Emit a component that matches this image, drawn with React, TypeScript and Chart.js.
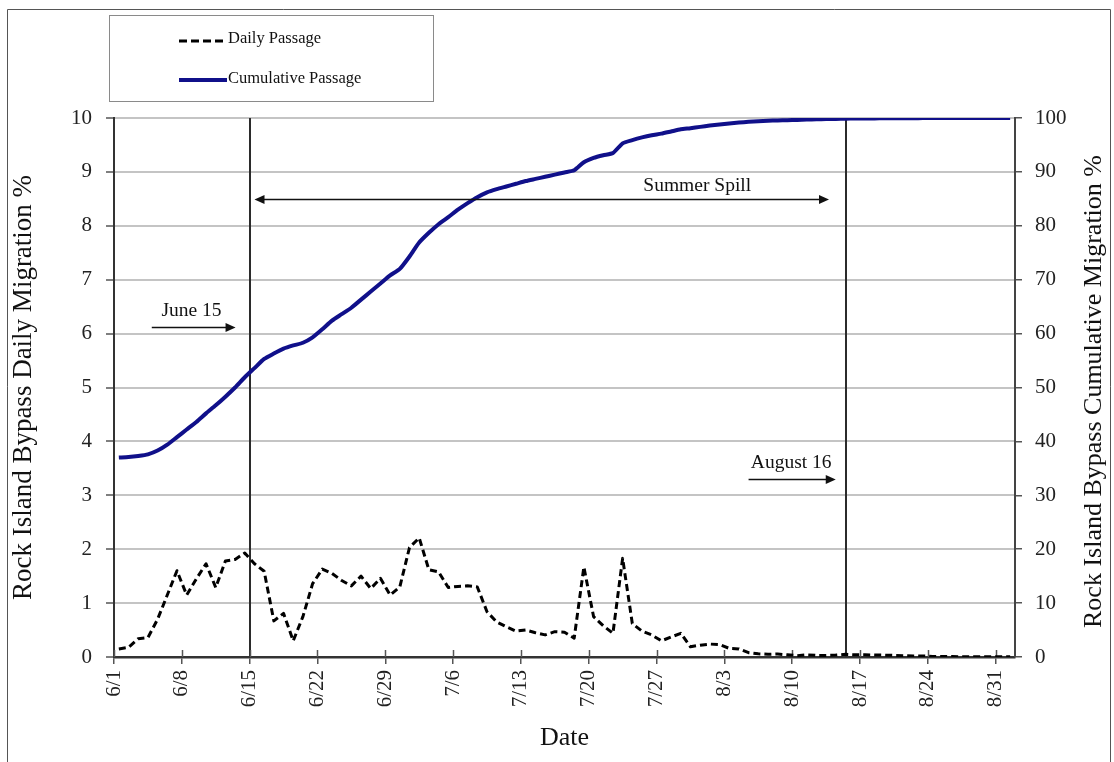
import React, { useEffect, useRef } from "react";
import { Chart, registerables } from "chart.js";

Chart.register(...registerables);

// ---- data ----
const tickDays = [0, 7, 14, 21, 28, 35, 42, 49, 56, 63, 70, 77, 84, 91];
const tickLabels = ["6/1", "6/8", "6/15", "6/22", "6/29", "7/6", "7/13", "7/20", "7/27", "8/3", "8/10", "8/17", "8/24", "8/31"];

const dailyPassage = [
  0.15, 0.18, 0.34, 0.36, 0.7, 1.15, 1.6, 1.15, 1.45, 1.73,
  1.29, 1.78, 1.81, 1.93, 1.73, 1.59, 0.67, 0.81, 0.3, 0.75,
  1.36, 1.63, 1.55, 1.42, 1.32, 1.5, 1.27, 1.46, 1.15, 1.3,
  2.03, 2.21, 1.62, 1.58, 1.29, 1.31, 1.32, 1.3, 0.84, 0.65,
  0.56, 0.48, 0.5, 0.45, 0.41, 0.47, 0.46, 0.35, 1.67, 0.75,
  0.58, 0.44, 1.83, 0.62, 0.48, 0.41, 0.3, 0.37, 0.44, 0.19,
  0.22, 0.24, 0.23, 0.16, 0.15, 0.08, 0.06, 0.05, 0.055, 0.04,
  0.025, 0.04, 0.03, 0.03, 0.035, 0.05, 0.04, 0.04, 0.035, 0.035,
  0.03, 0.025, 0.02, 0.02, 0.01, 0.01, 0.01, 0.005, 0.005, 0.005,
  0.005, 0.005, 0.005,
];

const cumulativePassage = [
  37.0, 37.1, 37.3, 37.6, 38.3, 39.4, 40.8, 42.2, 43.6, 45.2,
  46.7, 48.3, 50.0, 51.9, 53.6, 55.3, 56.3, 57.2, 57.8, 58.3,
  59.3, 60.8, 62.4, 63.6, 64.8, 66.3, 67.8, 69.3, 70.8, 72.0,
  74.3, 76.9, 78.7, 80.3, 81.6, 83.0, 84.2, 85.3, 86.2, 86.8,
  87.3, 87.8, 88.3, 88.7, 89.1, 89.5, 89.9, 90.3, 91.8, 92.6,
  93.1, 93.5, 95.3, 95.9, 96.4, 96.8, 97.1, 97.5, 97.9, 98.1,
  98.35, 98.6, 98.8, 99.0, 99.15, 99.3, 99.4, 99.5, 99.55, 99.6,
  99.65, 99.7, 99.75, 99.8, 99.83, 99.87, 99.9, 99.92, 99.93, 99.94,
  99.95, 99.96, 99.97, 99.98, 99.98, 99.99, 99.99, 99.99, 100, 100,
  100, 100, 100,
];

const markerDays = [14, 75.6];
const seriesNames = ["Daily Passage", "Cumulative Passage"];
const leftTitle = "Rock Island Bypass Daily Migration %";
const rightTitle = "Rock Island Bypass Cumulative Migration %";
const xTitle = "Date";

const annotations = [
  { text: "June 15", textDay: 8.0, textValue: 6.42, fromDay: 3.9, toDay: 12.55, arrowValue: 6.13, startHead: false },
  { text: "Summer Spill", textDay: 60.2, textValue: 8.74, fromDay: 14.5, toDay: 73.8, arrowValue: 8.5, startHead: true },
  { text: "August 16", textDay: 69.9, textValue: 3.6, fromDay: 65.5, toDay: 74.5, arrowValue: 3.3, startHead: false },
];

const SERIF = "'Liberation Serif', 'Times New Roman', serif";
const NAVY = "#10108a";

function arrowHead(ctx: CanvasRenderingContext2D, x: number, y: number, dir: number) {
  ctx.beginPath();
  ctx.moveTo(x, y);
  ctx.lineTo(x - dir * 10, y - 4.5);
  ctx.lineTo(x - dir * 10, y + 4.5);
  ctx.closePath();
  ctx.fill();
}

const overlayPlugin = {
  id: "overlay",
  beforeDatasetsDraw(chart: any) {
    const { ctx, chartArea, scales } = chart;
    const xs = scales.x;
    ctx.save();
    ctx.strokeStyle = "#2b2b2b";
    ctx.lineWidth = 2;
    for (const d of markerDays) {
      const px = Math.round(xs.getPixelForValue(d));
      ctx.beginPath();
      ctx.moveTo(px, chartArea.top);
      ctx.lineTo(px, chartArea.bottom);
      ctx.stroke();
    }
    // inner half of x tick marks
    ctx.strokeStyle = "#555";
    ctx.lineWidth = 1.5;
    for (const d of tickDays) {
      const px = Math.round(xs.getPixelForValue(d)) + 0.5;
      ctx.beginPath();
      ctx.moveTo(px, chartArea.bottom - 7);
      ctx.lineTo(px, chartArea.bottom);
      ctx.stroke();
    }
    ctx.restore();
  },
  afterDraw(chart: any) {
    const { ctx, chartArea, scales } = chart;
    const xs = scales.x;
    const ys = scales.y;
    ctx.save();

    // annotations
    ctx.fillStyle = "#111";
    ctx.strokeStyle = "#111";
    ctx.lineWidth = 1.5;
    ctx.font = `19.5px ${SERIF}`;
    ctx.textAlign = "center";
    ctx.textBaseline = "middle";
    for (const a of annotations) {
      ctx.fillText(a.text, xs.getPixelForValue(a.textDay), ys.getPixelForValue(a.textValue));
      const x1 = xs.getPixelForValue(a.fromDay);
      const x2 = xs.getPixelForValue(a.toDay);
      const y = Math.round(ys.getPixelForValue(a.arrowValue)) + 0.5;
      ctx.beginPath();
      ctx.moveTo(x1 + (a.startHead ? 6 : 0), y);
      ctx.lineTo(x2 - 6, y);
      ctx.stroke();
      arrowHead(ctx, x2, y, 1);
      if (a.startHead) arrowHead(ctx, x1, y, -1);
    }

    // legend box
    ctx.strokeStyle = "#8a8a8a";
    ctx.lineWidth = 1;
    ctx.strokeRect(109.5, 15.5, 324, 86);
    ctx.font = `16.5px ${SERIF}`;
    ctx.textAlign = "left";
    ctx.fillStyle = "#111";
    // daily
    ctx.strokeStyle = "#000";
    ctx.lineWidth = 3;
    ctx.setLineDash([8, 4]);
    ctx.beginPath();
    ctx.moveTo(179, 41);
    ctx.lineTo(227, 41);
    ctx.stroke();
    ctx.setLineDash([]);
    ctx.fillText(seriesNames[0], 228, 39);
    // cumulative
    ctx.strokeStyle = NAVY;
    ctx.lineWidth = 4;
    ctx.beginPath();
    ctx.moveTo(179, 80);
    ctx.lineTo(227, 80);
    ctx.stroke();
    ctx.fillText(seriesNames[1], 228, 79);

    // right axis title (reads bottom to top)
    ctx.fillStyle = "#111";
    ctx.font = `26px ${SERIF}`;
    ctx.textAlign = "center";
    ctx.textBaseline = "middle";
    ctx.translate(1094, (chartArea.top + chartArea.bottom) / 2 + 4);
    ctx.rotate(-Math.PI / 2);
    ctx.fillText(rightTitle, 0, 0);
    ctx.setTransform(1, 0, 0, 1, 0, 0);

    // outer frame
    ctx.strokeStyle = "#555";
    ctx.lineWidth = 1;
    ctx.beginPath();
    ctx.moveTo(7.5, 770);
    ctx.lineTo(7.5, 9.5);
    ctx.lineTo(1110.5, 9.5);
    ctx.lineTo(1110.5, 770);
    ctx.stroke();

    ctx.restore();
  },
};

export default function App() {
  const canvasRef = useRef<HTMLCanvasElement | null>(null);

  useEffect(() => {
    const canvas = canvasRef.current;
    if (!canvas) return;
    const chart = new Chart(canvas, {
      type: "line",
      data: {
        datasets: [
          {
            label: seriesNames[0],
            data: dailyPassage.map((v, i) => ({ x: i + 0.5, y: v })),
            borderColor: "#000",
            borderWidth: 3,
            borderDash: [7, 4],
            borderJoinStyle: "round",
            pointRadius: 0,
            tension: 0,
            yAxisID: "y",
            fill: false,
          },
          {
            label: seriesNames[1],
            data: cumulativePassage.map((v, i) => ({ x: i + 0.5, y: v })),
            borderColor: NAVY,
            borderWidth: 4,
            borderJoinStyle: "round",
            pointRadius: 0,
            tension: 0.2,
            yAxisID: "y1",
            fill: false,
          },
        ],
      },
      options: {
        animation: false,
        responsive: false,
        maintainAspectRatio: false,
        devicePixelRatio: 1,
        layout: { padding: { top: 118, left: 0, right: 0, bottom: 0 } },
        plugins: { legend: { display: false }, tooltip: { enabled: false } },
        scales: {
          x: {
            type: "linear",
            min: 0,
            max: 93,
            position: "bottom",
            afterFit: (s: any) => { s.height = 105; },
            afterBuildTicks: (s: any) => { s.ticks = tickDays.map((v) => ({ value: v })); },
            ticks: {
              autoSkip: false,
              minRotation: 90,
              maxRotation: 90,
              padding: 6,
              color: "#222",
              font: { family: SERIF, size: 21 },
              callback: (v: any) => {
                const i = tickDays.indexOf(Number(v));
                return i >= 0 ? tickLabels[i] : "";
              },
            },
            grid: { drawOnChartArea: false, drawTicks: true, tickLength: 7, color: "#555", lineWidth: 1.5 },
            border: { display: true, color: "#333", width: 2.5 },
            title: {
              display: true,
              text: xTitle,
              color: "#111",
              font: { family: SERIF, size: 26 },
              padding: { top: 0, bottom: 8 },
            },
          },
          y: {
            type: "linear",
            position: "left",
            min: 0,
            max: 10,
            afterFit: (s: any) => { s.width = 114; },
            ticks: { stepSize: 1, padding: 14, color: "#222", font: { family: SERIF, size: 21 } },
            grid: { color: "#c4c4c4", lineWidth: 2, tickLength: 8, tickColor: "#555", tickWidth: 1.5 },
            border: { display: true, color: "#333", width: 2 },
            title: {
              display: true,
              text: leftTitle,
              color: "#111",
              font: { family: SERIF, size: 27 },
              padding: { top: 8, bottom: 0 },
            },
          },
          y1: {
            type: "linear",
            position: "right",
            min: 0,
            max: 100,
            afterFit: (s: any) => { s.width = 99; },
            ticks: { stepSize: 10, padding: 13, color: "#222", font: { family: SERIF, size: 21 } },
            grid: { drawOnChartArea: false, tickLength: 7, color: "#555", lineWidth: 1.5 },
            border: { display: true, color: "#444", width: 2 },
          },
        },
      },
      plugins: [overlayPlugin],
    } as any);
    return () => chart.destroy();
  }, []);

  return (
    <div style={{ position: "absolute", left: 0, top: 0, width: 1114, height: 762, background: "#fff", overflow: "hidden" }}>
      <canvas ref={canvasRef} width={1114} height={762} style={{ display: "block", width: 1114, height: 762 }} />
    </div>
  );
}
